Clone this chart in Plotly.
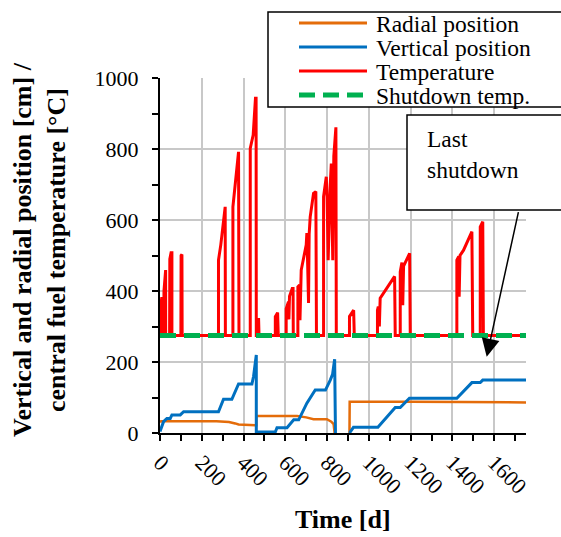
import plotly.graph_objects as go

# ---- data -------------------------------------------------------------
# Central fuel temperature [°C] vs time [d]
temp_day = [0, 0, 8, 11, 11, 19, 19, 24, 27, 27, 46, 47, 53, 57, 57, 100, 101, 105, 106,
            280, 280, 291, 297, 312, 313,
            349, 349, 360, 376, 378,
            432, 432, 446, 457, 460, 461,
            467, 467, 472, 474,
            552, 552, 563, 566,
            604, 604, 615, 617, 620, 633, 637, 638,
            660, 660, 668, 670, 676, 700, 703, 707, 711, 714, 719, 735, 746, 749,
            783, 783, 796, 800, 805, 815, 820, 824, 827, 832, 839, 842, 844,
            907, 907, 927, 930,
            1041, 1041, 1045, 1050, 1054, 1123, 1126,
            1150, 1150, 1158, 1162, 1166, 1195, 1198,
            1421, 1421, 1430, 1432, 1436, 1453, 1493, 1497,
            1533, 1533, 1545, 1548,
            1752]
temp_c = [275, 340, 379, 379, 275, 275, 400, 459, 459, 275, 275, 490, 508, 508, 275, 275, 500, 503, 275,
          275, 487, 530, 563, 637, 275,
          275, 637, 700, 792, 275,
          275, 802, 839, 943, 943, 275,
          275, 320, 320, 275,
          275, 328, 339, 275,
          275, 350, 370, 320, 385, 407, 407, 275,
          275, 412, 417, 318, 459, 530, 563, 470, 366, 560, 609, 675, 680, 275,
          275, 666, 722, 660, 487, 700, 759, 600, 487, 780, 858, 861, 275,
          275, 328, 346, 275,
          275, 346, 356, 300, 380, 441, 275,
          275, 454, 480, 360, 470, 506, 275,
          275, 487, 497, 384, 500, 515, 567, 275,
          275, 581, 595, 275,
          275]

# Vertical position [cm]
vert_day = [0, 17, 33, 49, 57, 97, 113, 280, 304, 344, 376, 440, 448, 461, 461,
            463, 552, 560, 608, 640, 664, 703, 743, 792, 815, 826, 836, 840,
            None,
            907, 926, 1043, 1126, 1150, 1194, 1421, 1493, 1533, 1545, 1752]
vert_cm = [4, 32, 41, 41, 51, 51, 60, 60, 95, 95, 138, 138, 160, 220, 0,
           3, 3, 15, 15, 37, 37, 84, 121, 121, 149, 165, 208, 0,
           None,
           0, 16, 16, 72, 72, 98, 98, 142, 142, 149, 149]

# Radial position [cm]
rad_day = [0, 5, 270, 330, 360, 376, 458, 461, 461, 656, 700, 735, 799, 820, 831, 836,
           None,
           907, 908, 1200, 1752]
rad_cm = [30, 33, 33, 31, 27, 24, 22, 22, 48, 48, 44, 39, 39, 32, 25, 0,
          None,
          0, 88, 88, 86]

# Shutdown temperature [°C]
shut_day = [0, 1752]
shut_c = [275, 275]

series_names = ["Radial position", "Vertical position", "Temperature", "Shutdown temp."]
series_colors = ["#E46C0A", "#0070C0", "#FF0000", "#00B050"]

y_title = "<b>Vertical and radial position [cm] /<br>central fuel temperature [°C]</b>"
x_title = "<b>Time [d]</b>"
note_text = "Last<br>shutdown"
note_day, note_val = 1564, 215

FONT = "Liberation Serif"

# ---- plot frame (pixels) ------------------------------------------------
W, H = 561, 537
L, R, T, B = 160, 35, 78, 104
PW, PH = W - L - R, H - T - B


def px(xp):
    return (xp - L) / PW


def py(yp):
    return (H - B - yp) / PH


fig = go.Figure()
fig.add_trace(go.Scatter(x=rad_day, y=rad_cm, mode="lines", name=series_names[0],
                         line=dict(color=series_colors[0], width=2.5), connectgaps=False))
fig.add_trace(go.Scatter(x=vert_day, y=vert_cm, mode="lines", name=series_names[1],
                         line=dict(color=series_colors[1], width=3), connectgaps=False))
fig.add_trace(go.Scatter(x=temp_day, y=temp_c, mode="lines", name=series_names[2],
                         line=dict(color=series_colors[2], width=3)))
fig.add_trace(go.Scatter(x=shut_day, y=shut_c, mode="lines", name=series_names[3],
                         line=dict(color=series_colors[3], width=5, dash="16px,8px")))

axis_common = dict(
    showline=True, linecolor="black", linewidth=2,
    ticks="outside", ticklen=6, tickwidth=1.5, tickcolor="black",
    showgrid=True, gridcolor="#C8C8C8", gridwidth=1.5, zeroline=False,
    tickfont=dict(family=FONT, size=22, color="black"),
    minor=dict(dtick=100, ticks="outside", ticklen=6, tickwidth=1.5,
               tickcolor="black", showgrid=False),
)

fig.update_layout(
    width=W, height=H,
    margin=dict(l=L, r=R, t=T, b=B),
    paper_bgcolor="white", plot_bgcolor="white",
    showlegend=False,
    font=dict(family=FONT, color="black"),
    xaxis=dict(range=[0, 1752], tick0=0, dtick=200, tickangle=45, **axis_common),
    yaxis=dict(range=[0, 1000], tick0=0, dtick=200, ticklabelstandoff=9, **axis_common),
)

shapes = []
annotations = []

# legend box
shapes.append(dict(type="rect", xref="paper", yref="paper",
                   x0=px(268), x1=px(580), y0=py(107), y1=py(12),
                   line=dict(color="black", width=1.5), fillcolor="white", layer="above"))
row_y = [23, 47, 71, 95]
for name, color, ry in zip(series_names, series_colors, row_y):
    dash = "16px,8px" if name == series_names[3] else "solid"
    width = 5 if name == series_names[3] else 3
    shapes.append(dict(type="line", xref="paper", yref="paper",
                       x0=px(299), x1=px(367), y0=py(ry), y1=py(ry),
                       line=dict(color=color, width=width, dash=dash), layer="above"))
    annotations.append(dict(text=name, xref="paper", yref="paper",
                            x=px(374), y=py(ry + 1), xanchor="left", yanchor="middle",
                            showarrow=False, font=dict(family=FONT, size=23.5, color="black")))

# "Last shutdown" call-out
shapes.append(dict(type="rect", xref="paper", yref="paper",
                   x0=px(407), x1=px(580), y0=py(210), y1=py(115),
                   line=dict(color="black", width=1.5), fillcolor="white", layer="above"))
annotations.append(dict(text=note_text, xref="paper", yref="paper",
                        x=px(425), y=py(124), xanchor="left", yanchor="top", align="left",
                        showarrow=False, font=dict(family=FONT, size=23.5, color="black")))
annotations.append(dict(text="", x=note_day, y=note_val, xref="x", yref="y",
                        showarrow=True, axref="pixel", ayref="pixel", ax=32, ay=-146,
                        arrowhead=2, arrowsize=2.4, arrowwidth=1.5, arrowcolor="black"))

# axis titles
annotations.append(dict(text=y_title, xref="paper", yref="paper",
                        x=px(39), y=py(250), xanchor="center", yanchor="middle",
                        textangle=-90, showarrow=False,
                        font=dict(family=FONT, size=26, color="black")))
annotations.append(dict(text=x_title, xref="paper", yref="paper",
                        x=px(343), y=py(536), xanchor="center", yanchor="bottom",
                        showarrow=False, font=dict(family=FONT, size=26, color="black")))

fig.update_layout(shapes=shapes, annotations=annotations)

fig.write_html("out.html")
